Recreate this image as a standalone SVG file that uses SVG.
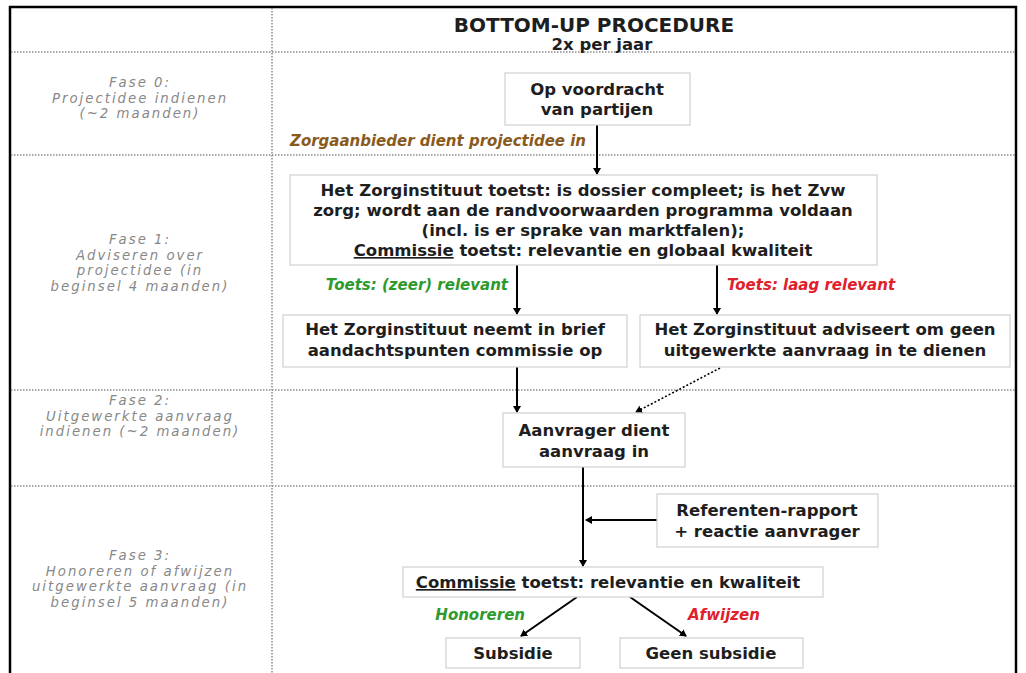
<svg xmlns="http://www.w3.org/2000/svg" width="1026" height="673" viewBox="0 0 1026 673">
<style>
.frame{stroke:#000;stroke-width:2.5;fill:none}
.dot{stroke:#8a8a8a;stroke-width:1.5;stroke-dasharray:1.5 1.5;fill:none}
.box{fill:#fff;stroke:#d0d0d0;stroke-width:1.2}
.bt{font-family:"DejaVu Sans",Verdana,sans-serif;font-weight:bold;font-size:16.5px;fill:#1e1e1e;text-anchor:middle}
.ph{font-family:"DejaVu Sans",Verdana,sans-serif;font-style:italic;font-size:13.3px;letter-spacing:2px;fill:#888;text-anchor:middle}
.lbl{font-family:"DejaVu Sans",Verdana,sans-serif;font-style:italic;font-weight:bold;font-size:15px}
.ar{stroke:#000;stroke-width:2;fill:none;marker-end:url(#ah)}
.ard{stroke:#000;stroke-width:1.6;stroke-dasharray:2 2;fill:none;marker-end:url(#ah)}
</style>
<defs>
<marker id="ah" markerWidth="8" markerHeight="8" refX="6" refY="4" orient="auto" markerUnits="userSpaceOnUse">
<path d="M0,0 L7,4 L0,8 Z" fill="#000"/>
</marker>
</defs>
<rect width="1026" height="673" fill="#fff"/>
<g id="frame">
<path class="frame" d="M10,673 V7 H1016 V673"/>
<path class="dot" d="M272,8 V673"/>
<path class="dot" d="M11,52 H1015"/>
<path class="dot" d="M11,155 H1015"/>
<path class="dot" d="M11,390 H1015"/>
<path class="dot" d="M11,486 H1015"/>
</g>
<g id="title">
<text x="594" y="32" class="bt" style="font-size:20px">BOTTOM-UP PROCEDURE</text>
<text x="602" y="50" class="bt">2x per jaar</text>
</g>
<g id="phases">
<text class="ph" x="140" y="87">Fase 0:</text>
<text class="ph" x="140" y="102.5">Projectidee indienen</text>
<text class="ph" x="140" y="118">(~2 maanden)</text>
<text class="ph" x="140" y="244">Fase 1:</text>
<text class="ph" x="140" y="259.5">Adviseren over</text>
<text class="ph" x="140" y="275">projectidee (in</text>
<text class="ph" x="140" y="290.5">beginsel 4 maanden)</text>
<text class="ph" x="140" y="405">Fase 2:</text>
<text class="ph" x="140" y="420.5">Uitgewerkte aanvraag</text>
<text class="ph" x="140" y="436">indienen (~2 maanden)</text>
<text class="ph" x="140" y="560">Fase 3:</text>
<text class="ph" x="140" y="575.5">Honoreren of afwijzen</text>
<text class="ph" x="140" y="591">uitgewerkte aanvraag (in</text>
<text class="ph" x="140" y="606.5">beginsel 5 maanden)</text>
</g>
<g id="connectors">
<path class="ar" d="M597,125 V174"/>
<path class="ar" d="M517,265 V314"/>
<path class="ar" d="M717,265 V314"/>
<path class="ar" d="M517,367 V412"/>
<path class="ard" d="M720,368 L636,412"/>
<path class="ar" d="M583,467 V566"/>
<path class="ar" d="M657,520 H586"/>
<path class="ar" d="M577,597 L521,636"/>
<path class="ar" d="M630,597 L686,636"/>
<text class="lbl" x="290" y="146" fill="#8a5a1c">Zorgaanbieder dient projectidee in</text>
<text class="lbl" x="508" y="290" fill="#2e9a2e" text-anchor="end">Toets: (zeer) relevant</text>
<text class="lbl" x="727" y="290" fill="#e0202a">Toets: laag relevant</text>
<text class="lbl" x="525" y="620" fill="#2e9a2e" text-anchor="end">Honoreren</text>
<text class="lbl" x="688" y="620" fill="#e0202a">Afwijzen</text>
</g>
<g id="n1">
<rect class="box" x="505" y="73" width="185" height="52"/>
<text class="bt" x="597" y="95">Op voordracht</text>
<text class="bt" x="597" y="115">van partijen</text>
</g>
<g id="n2">
<rect class="box" x="290" y="175" width="587" height="90"/>
<text class="bt" x="583" y="196">Het Zorginstituut  toetst: is dossier compleet; is het Zvw</text>
<text class="bt" x="583" y="216">zorg; wordt aan de randvoorwaarden programma voldaan</text>
<text class="bt" x="583" y="236">(incl. is er sprake van marktfalen);</text>
<text class="bt" x="583" y="256"><tspan text-decoration="underline">Commissie</tspan>  toetst: relevantie en globaal  kwaliteit</text>
</g>
<g id="n3">
<rect class="box" x="283" y="315" width="344" height="52"/>
<text class="bt" x="455" y="335">Het Zorginstituut  neemt in brief</text>
<text class="bt" x="455" y="356">aandachtspunten  commissie  op</text>
</g>
<g id="n4">
<rect class="box" x="640" y="315" width="370" height="52"/>
<text class="bt" x="825" y="335">Het Zorginstituut  adviseert om geen</text>
<text class="bt" x="825" y="356">uitgewerkte  aanvraag in  te dienen</text>
</g>
<g id="n5">
<rect class="box" x="503" y="413" width="182" height="54"/>
<text class="bt" x="594" y="436">Aanvrager dient</text>
<text class="bt" x="594" y="457">aanvraag in</text>
</g>
<g id="n6">
<rect class="box" x="657" y="494" width="221" height="53"/>
<text class="bt" x="767" y="516">Referenten-rapport</text>
<text class="bt" x="767" y="537">+ reactie  aanvrager</text>
</g>
<g id="n7">
<rect class="box" x="403" y="567" width="420" height="30"/>
<text class="bt" x="608" y="588"><tspan text-decoration="underline">Commissie</tspan>  toetst: relevantie  en kwaliteit</text>
</g>
<g id="n8">
<rect class="box" x="446" y="638" width="134" height="30"/>
<text class="bt" x="513" y="659">Subsidie</text>
</g>
<g id="n9">
<rect class="box" x="620" y="638" width="183" height="30"/>
<text class="bt" x="711" y="659">Geen subsidie</text>
</g>
</svg>
